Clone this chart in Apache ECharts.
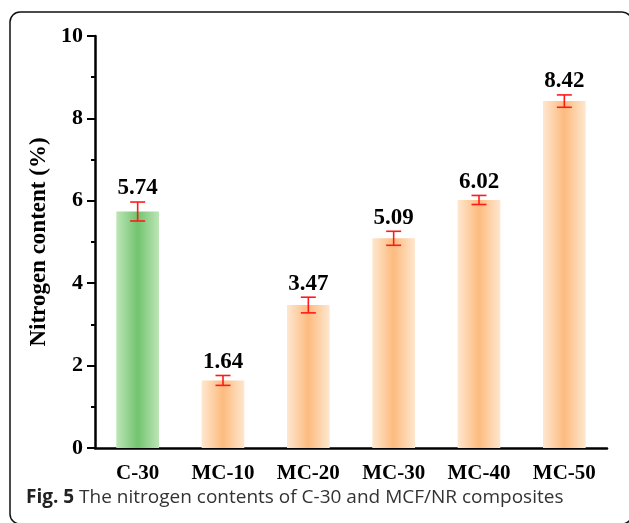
<!DOCTYPE html>
<html>
<head>
<meta charset="utf-8">
<script src="https://cdn.jsdelivr.net/npm/echarts@6/dist/echarts.min.js"></script>
<style>
  html, body { margin: 0; padding: 0; background: #fff; }
  #chart { width: 629px; height: 523px; }
</style>
</head>
<body>
<div id="chart"></div>
<script>
// Sample names, nitrogen content (%) and standard deviations
const categories = ['C-30', 'MC-10', 'MC-20', 'MC-30', 'MC-40', 'MC-50'];
const nitrogen = [5.74, 1.64, 3.47, 5.09, 6.02, 8.42];
const deviation = [0.23, 0.12, 0.19, 0.17, 0.11, 0.15];
const yTicks = [0, 2, 4, 6, 8, 10];

const serif = '"Liberation Serif", "Times New Roman", serif';

function barGradient(edge, mid) {
  return new echarts.graphic.LinearGradient(0, 0, 1, 0, [
    { offset: 0, color: edge },
    { offset: 0.5, color: mid },
    { offset: 1, color: edge }
  ]);
}
const greenFill = barGradient('#bde5b6', '#72c470');
const orangeFill = barGradient('#fee7cf', '#fdbb7f');

const chart = echarts.init(document.getElementById('chart'), null, { renderer: 'canvas' });

chart.setOption({
  animation: false,
  backgroundColor: '#ffffff',
  grid: { left: 95, right: 22, top: 36, bottom: 75 },
  xAxis: [
    {
      type: 'category',
      data: categories,
      position: 'bottom',
      axisLine: { lineStyle: { color: '#000', width: 2.5 } },
      axisTick: { alignWithLabel: true, length: 7, lineStyle: { color: '#000', width: 2 } },
      axisLabel: {
        interval: 0, hideOverlap: false,
        color: '#000', fontFamily: serif, fontWeight: 'bold', fontSize: 21, margin: 15
      }
    },
    {
      // short ticks on the category boundaries
      type: 'category',
      data: categories,
      position: 'bottom',
      axisLine: { show: false },
      axisTick: { length: 4, lineStyle: { color: '#000', width: 2 } },
      axisLabel: { show: false }
    }
  ],
  yAxis: {
    type: 'value',
    min: yTicks[0],
    max: yTicks[yTicks.length - 1],
    interval: 2,
    name: 'Nitrogen content (%)',
    nameLocation: 'middle',
    nameGap: 44,
    nameTextStyle: { color: '#000', fontFamily: serif, fontWeight: 'bold', fontSize: 23 },
    axisLine: { show: true, lineStyle: { color: '#000', width: 2.5 } },
    axisTick: { show: true, length: 8, lineStyle: { color: '#000', width: 2 } },
    minorTick: { show: true, splitNumber: 2, length: 4, lineStyle: { color: '#000', width: 2 } },
    splitLine: { show: false },
    axisLabel: {
      color: '#000', fontFamily: serif, fontWeight: 'bold', fontSize: 22, margin: 12,
      formatter: v => (yTicks.indexOf(v) >= 0 ? String(v) : '')
    }
  },
  series: [
    {
      type: 'bar',
      xAxisIndex: 0,
      barWidth: '50%',
      data: nitrogen.map((v, i) => ({
        value: v,
        itemStyle: { color: i === 0 ? greenFill : orangeFill }
      }))
    },
    {
      // error bars with the value written above each one
      type: 'custom',
      xAxisIndex: 0,
      data: nitrogen.map((v, i) => [i, v, deviation[i]]),
      z: 5,
      renderItem: function (params, api) {
        const idx = api.value(0);
        const val = api.value(1);
        const err = api.value(2);
        const top = api.coord([idx, val + err]);
        const bot = api.coord([idx, val - err]);
        const half = 7.5;
        const stroke = { stroke: '#ff1a1a', lineWidth: 1.6 };
        return {
          type: 'group',
          children: [
            { type: 'line', shape: { x1: top[0], y1: top[1], x2: bot[0], y2: bot[1] }, style: stroke },
            { type: 'line', shape: { x1: top[0] - half, y1: top[1], x2: top[0] + half, y2: top[1] }, style: stroke },
            { type: 'line', shape: { x1: bot[0] - half, y1: bot[1], x2: bot[0] + half, y2: bot[1] }, style: stroke },
            {
              type: 'text',
              x: top[0],
              y: top[1] - 2,
              style: {
                text: val.toFixed(2),
                fill: '#000',
                font: 'bold 23px ' + serif,
                align: 'center',
                verticalAlign: 'bottom'
              }
            }
          ]
        };
      }
    }
  ],
  graphic: [
    {
      type: 'rect',
      shape: { x: 10, y: 12, width: 622, height: 512, r: 10 },
      style: { fill: 'none', stroke: '#111', lineWidth: 1.5 },
      silent: true
    },
    {
      type: 'text',
      left: 26,
      top: 488,
      style: {
        text: '{b|Fig. 5} The nitrogen contents of C-30 and MCF/NR composites',
        font: '19px "Open Sans", sans-serif',
        fill: '#333',
        rich: {
          b: { fontFamily: '"Open Sans", sans-serif', fontWeight: 'bold', fontSize: 19, fill: '#222' }
        }
      }
    }
  ]
});
</script>
</body>
</html>
